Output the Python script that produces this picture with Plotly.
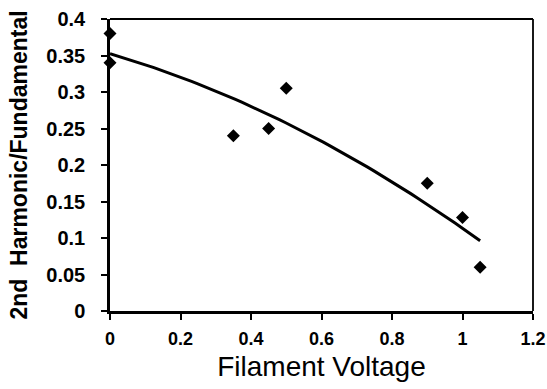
import numpy as np
import plotly.graph_objects as go

filament_voltage = [0, 0, 0.35, 0.45, 0.5, 0.9, 1.0, 1.05]
harmonic_ratio = [0.38, 0.34, 0.24, 0.25, 0.305, 0.175, 0.128, 0.06]
x_ticks = [0, 0.2, 0.4, 0.6, 0.8, 1, 1.2]
y_ticks = [0, 0.05, 0.1, 0.15, 0.2, 0.25, 0.3, 0.35, 0.4]

# second-order polynomial trendline fitted to the data
coef = np.polyfit(filament_voltage, harmonic_ratio, 2)
xf = np.linspace(min(filament_voltage), max(filament_voltage), 60)
yf = np.polyval(coef, xf)

fig = go.Figure()
fig.add_trace(go.Scatter(x=xf, y=yf, mode="lines",
                         line=dict(color="black", width=3), showlegend=False))
fig.add_trace(go.Scatter(x=filament_voltage, y=harmonic_ratio, mode="markers",
                         marker=dict(symbol="diamond", size=10, color="black"),
                         showlegend=False, cliponaxis=False))

FONT = "Liberation Sans, Arial, sans-serif"
fig.update_layout(
    width=547, height=389,
    margin=dict(l=110, r=14, t=19, b=78),
    paper_bgcolor="white", plot_bgcolor="white",
    font=dict(family=FONT, color="black"),
    xaxis=dict(range=[0, 1.2], tickvals=x_ticks, ticktext=[f"<b>{v:g}</b>" for v in x_ticks],
               showgrid=False, zeroline=False, showline=True, linecolor="black", linewidth=2.5,
               ticks="outside", ticklen=6, tickwidth=1.5, tickcolor="black",
               tickfont=dict(family=FONT, size=18, color="black"),
               ticklabelstandoff=4, automargin=False,
               title=dict(text="Filament Voltage", font=dict(family=FONT, size=28, color="black"), standoff=9)),
    yaxis=dict(range=[0, 0.4], tickvals=y_ticks, ticktext=[f"<b>{v:g}</b>" for v in y_ticks],
               showgrid=False, zeroline=False, showline=True, linecolor="black", linewidth=2.5,
               ticks="outside", ticklen=6, tickwidth=1.5, tickcolor="black",
               tickfont=dict(family=FONT, size=20, color="black"),
               ticklabelstandoff=12, automargin=False,
               title=dict(text="<b>2nd&nbsp;&nbsp;Harmonic/Fundamental</b>",
                          font=dict(family=FONT, size=23, color="black"), standoff=13)),
    shapes=[
        dict(type="line", xref="paper", yref="paper", x0=0, x1=1, y0=1, y1=1,
             line=dict(color="black", width=1.8)),
        dict(type="line", xref="paper", yref="paper", x0=1, x1=1, y0=0, y1=1,
             line=dict(color="black", width=1.8)),
    ],
)
fig.write_html("out.html", config={"displayModeBar": False},
               post_script="document.body.style.margin='0';document.body.style.overflow='hidden';")
